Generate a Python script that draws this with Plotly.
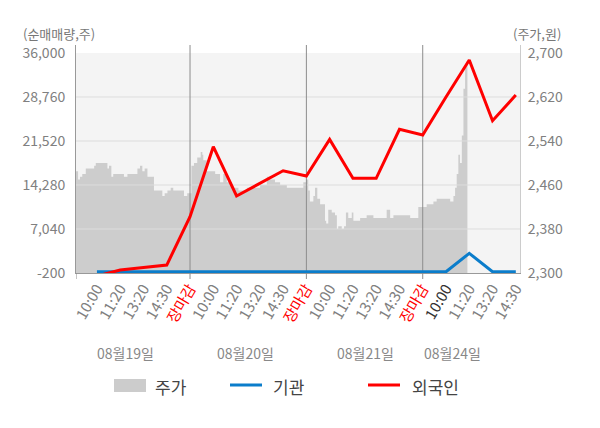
import plotly.graph_objects as go

# x axis: intraday checkpoints over four sessions
labels = ["10:00", "11:20", "13:20", "14:30", "장마감",
          "10:00", "11:20", "13:20", "14:30", "장마감",
          "10:00", "11:20", "13:20", "14:30", "장마감",
          "10:00", "11:20", "13:20", "14:30"]
dates = ["08월19일", "08월20일", "08월21일", "08월24일"]

# net buying volume (shares), left axis
inst = [0, 0, 0, 0, 0, 0, 0, 0, 0, 0, 0, 0, 0, 0, 0, 0, 3040, 0, 0]
foreign = [-700, 300, 700, 1100, 9060, 20580, 12470, 14600, 16630, 15760,
           21790, 15380, 15380, 23440, 22500, 28750, 34840, 24850, 29080]

# stock price (won), right axis; positions in checkpoint units
price_pos = [-0.90, -0.87, -0.81, -0.73, -0.63, -0.48, -0.34, -0.12, -0.05, 0.09,
             0.26, 0.38, 0.45, 0.52, 0.62, 0.70, 1.02, 1.16, 1.31, 1.67,
             1.74, 1.85, 1.95, 2.05, 2.17, 2.40, 2.45, 2.71, 2.81, 2.91,
             3.03, 3.17, 3.28, 3.39, 3.60, 3.74, 3.88, 4.00, 4.06, 4.17,
             4.31, 4.46, 4.53, 4.57, 4.72, 4.86, 5.08, 5.29, 5.43, 5.58,
             5.69, 5.79, 5.93, 6.08, 6.22, 6.44, 6.72, 7.01, 7.30, 7.44,
             7.65, 7.87, 8.16, 8.44, 8.73, 8.87, 8.99, 9.08, 9.15, 9.30,
             9.37, 9.47, 9.59, 9.70, 9.80, 9.85, 9.94, 10.09, 10.23, 10.31,
             10.37, 10.52, 10.62, 10.70, 10.80, 10.95, 11.02, 11.16, 11.31, 11.45,
             11.59, 11.74, 11.88, 12.09, 12.31, 12.45, 12.60, 12.74, 13.03, 13.24,
             13.46, 13.67, 13.81, 13.96, 14.03, 14.17, 14.31, 14.46, 14.60, 14.67,
             14.89, 15.10, 15.18, 15.32, 15.39, 15.46, 15.53, 15.60, 15.68, 15.75,
             15.82, 15.89, 15.92]
price = [2485, 2485, 2470, 2475, 2480, 2490, 2490, 2495, 2500, 2500,
         2500, 2500, 2490, 2495, 2475, 2480, 2480, 2475, 2480, 2480,
         2490, 2495, 2485, 2490, 2475, 2475, 2450, 2450, 2440, 2445,
         2450, 2455, 2450, 2450, 2450, 2440, 2445, 2445, 2495, 2500,
         2510, 2520, 2515, 2505, 2485, 2485, 2480, 2465, 2480, 2465,
         2465, 2455, 2455, 2450, 2450, 2455, 2455, 2460, 2475, 2470,
         2465, 2460, 2455, 2455, 2455, 2465, 2470, 2450, 2430, 2440,
         2455, 2435, 2425, 2425, 2395, 2390, 2415, 2410, 2405, 2380,
         2385, 2380, 2385, 2410, 2400, 2410, 2395, 2395, 2400, 2400,
         2405, 2405, 2400, 2400, 2400, 2415, 2400, 2405, 2405, 2405,
         2400, 2400, 2420, 2420, 2420, 2425, 2425, 2430, 2435, 2435,
         2435, 2435, 2430, 2440, 2455, 2480, 2515, 2500, 2550, 2635,
         2675, 2685, 2685]

vol_ticks = [36000, 28760, 21520, 14280, 7040, -200]
price_ticks = [2700, 2620, 2540, 2460, 2380, 2300]

FONT = "Noto Sans CJK KR"
X_RANGE = [-0.9, 18.18]
VOL_RANGE = [-200, 37316]
PRICE_RANGE = [2300, 2714.5]

# plot area in pixels: left 76, right 520, top 45, bottom 273
def pp(x, y):
    return (x - 76) / 444, (273 - y) / 228

ticktext = []
for i, lab in enumerate(labels):
    if lab == "장마감":
        ticktext.append("<span style='color:#ff0000'>" + lab + "</span>")
    elif i == 15:
        ticktext.append("<span style='color:#333333'>" + lab + "</span>")
    else:
        ticktext.append(lab)
seps = [i for i, lab in enumerate(labels) if lab == "장마감"]

fig = go.Figure()

fig.add_trace(go.Scatter(x=price_pos, y=price, mode="lines", line_shape="hv",
                         fill="tozeroy", fillcolor="#cdcdcd",
                         line=dict(width=0, color="#cdcdcd"),
                         xaxis="x", yaxis="y", hoverinfo="skip"))

# grid lines and session separators, drawn over the price area
gx, gy = [], []
for v in price_ticks[1:-1]:
    gx += [X_RANGE[0], X_RANGE[1], None]
    gy += [v, v, None]
fig.add_trace(go.Scatter(x=gx, y=gy, mode="lines", line=dict(color="#dddddd", width=1),
                         xaxis="x", yaxis="y", hoverinfo="skip"))
sx, sy = [], []
for s in seps:
    sx += [s, s, None]
    sy += [PRICE_RANGE[0], PRICE_RANGE[1], None]
fig.add_trace(go.Scatter(x=sx, y=sy, mode="lines", line=dict(color="#8c8c8c", width=1),
                         xaxis="x", yaxis="y", hoverinfo="skip"))

xs = list(range(len(labels)))
fig.add_trace(go.Scatter(x=xs, y=inst, mode="lines", line=dict(color="#0b7dcb", width=3),
                         xaxis="x", yaxis="y2"))
fig.add_trace(go.Scatter(x=xs, y=foreign, mode="lines", line=dict(color="#ff0000", width=3),
                         xaxis="x", yaxis="y2"))

shapes = [
    dict(type="rect", xref="paper", yref="y", x0=0, x1=1, y0=2300, y1=2700,
         fillcolor="#f4f4f4", line=dict(width=0), layer="below"),
]
# small tick stubs below the axis
for s in seps + [X_RANGE[0]]:
    shapes.append(dict(type="line", xref="x", yref="paper", x0=s, x1=s,
                       y0=pp(0, 279)[1], y1=0, line=dict(color="#8c8c8c", width=1)))

# legend drawn by hand
x0, y0 = pp(114, 379)
x1, y1 = pp(146, 392)
shapes.append(dict(type="rect", xref="paper", yref="paper", x0=x0, x1=x1, y0=y1, y1=y0,
                   fillcolor="#cccccc", line=dict(width=0)))
for a, b, c in [(230, 262, "#0b7dcb"), (368, 400, "#ff0000")]:
    shapes.append(dict(type="line", xref="paper", yref="paper",
                       x0=pp(a, 0)[0], x1=pp(b, 0)[0], y0=pp(0, 385)[1], y1=pp(0, 385)[1],
                       line=dict(color=c, width=3)))

annotations = []
for txt, px in [("주가", 153), ("기관", 271), ("외국인", 410)]:
    ax, ay = pp(px, 386)
    annotations.append(dict(text=txt, x=ax, y=ay, xref="paper", yref="paper",
                            xanchor="left", yanchor="middle", showarrow=False,
                            font=dict(size=17, color="#444444", family=FONT)))
for txt, px in zip(dates, [125, 245, 365, 452]):
    ax, ay = pp(px, 353)
    annotations.append(dict(text=txt, x=ax, y=ay, xref="paper", yref="paper",
                            xanchor="center", yanchor="middle", showarrow=False,
                            font=dict(size=14, color="#888888", family=FONT)))
ax, ay = pp(21, 33)
annotations.append(dict(text="(순매매량,주)", x=ax, y=ay, xref="paper", yref="paper",
                        xanchor="left", yanchor="middle", showarrow=False,
                        font=dict(size=13, color="#777777", family=FONT)))
ax, ay = pp(563, 33)
annotations.append(dict(text="(주가,원)", x=ax, y=ay, xref="paper", yref="paper",
                        xanchor="right", yanchor="middle", showarrow=False,
                        font=dict(size=13, color="#777777", family=FONT)))

fig.update_layout(
    width=600, height=428,
    margin=dict(l=76, r=80, t=45, b=155),
    paper_bgcolor="white", plot_bgcolor="white",
    showlegend=False,
    font=dict(family=FONT, color="#808080", size=14),
    xaxis=dict(range=X_RANGE, tickmode="array", tickvals=xs, ticktext=ticktext,
               tickangle=-60, showgrid=False, zeroline=False, ticks="",
               showline=True, linecolor="#999999", linewidth=1,
               tickfont=dict(size=15, color="#808080", family=FONT)),
    yaxis=dict(range=PRICE_RANGE, side="right", tickmode="array",
               tickvals=price_ticks, ticktext=[f"{v:,}" for v in price_ticks],
               showgrid=False, zeroline=False, showline=True, linecolor="#cccccc",
               ticks="", ticklabelstandoff=4,
               tickfont=dict(size=14, color="#808080", family=FONT)),
    yaxis2=dict(range=VOL_RANGE, side="left", overlaying="y", tickmode="array",
                tickvals=vol_ticks, ticktext=[f"{v:,}" for v in vol_ticks],
                showgrid=False, zeroline=False, showline=True, linecolor="#999999",
                ticks="", ticklabelstandoff=7,
                tickfont=dict(size=14, color="#808080", family=FONT)),
    shapes=shapes,
    annotations=annotations,
)

fig.write_html("out.html", config={"displayModeBar": False},
               post_script="document.body.style.margin='0';")
